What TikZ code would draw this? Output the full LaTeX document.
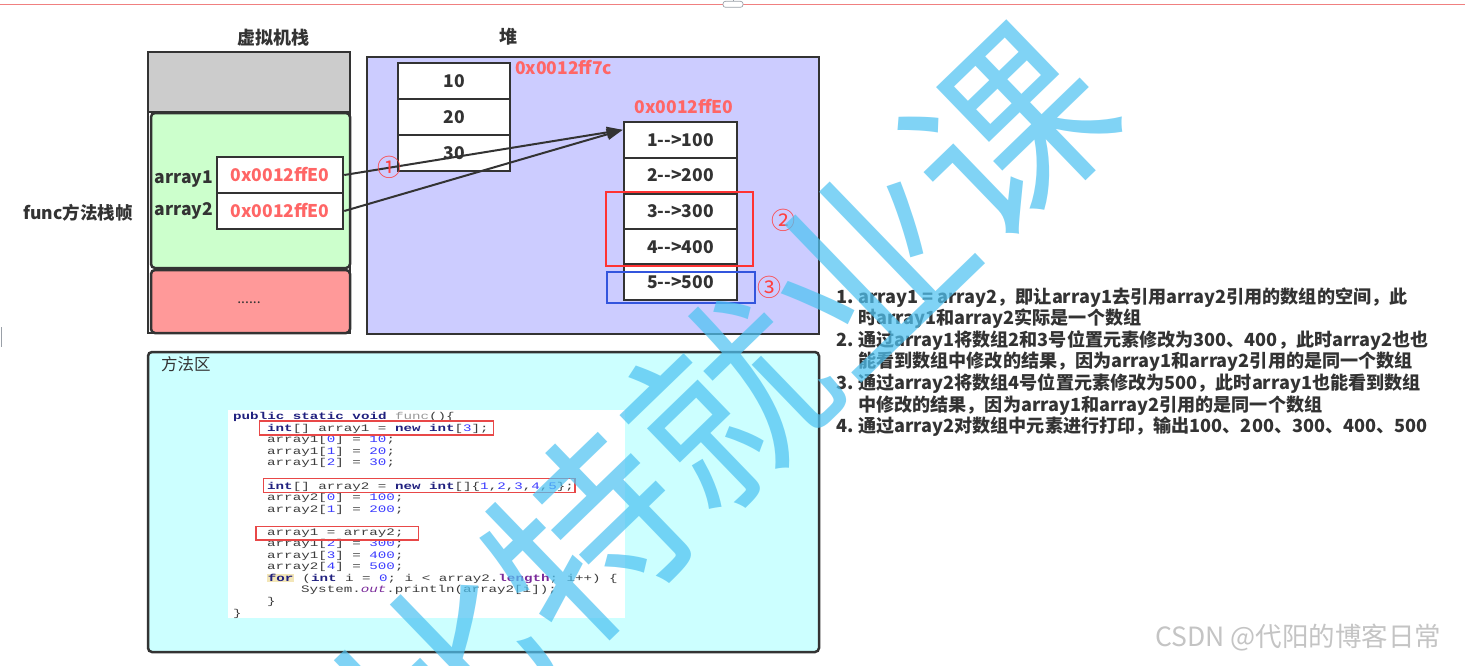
\documentclass[tikz,border=0pt]{standalone}
\usepackage{fontspec}
\usepackage{graphicx}
\usetikzlibrary{arrows.meta}
\newfontfamily\cjk{Noto Sans CJK SC}
\newfontfamily\cmono{Liberation Mono}
\newcommand\fsz[1]{\fontsize{#1}{#1}\selectfont}
\definecolor{lc}{HTML}{333333}
\definecolor{tc}{HTML}{333333}
\definecolor{stgrey}{HTML}{CCCCCC}
\definecolor{stgreen}{HTML}{CCFFCC}
\definecolor{stred}{HTML}{FF9999}
\definecolor{heapc}{HTML}{CCCCFF}
\definecolor{methc}{HTML}{CCFFFF}
\definecolor{addrc}{HTML}{FF6666}
\definecolor{circc}{HTML}{FF4040}
\definecolor{rrect}{HTML}{FF3333}
\definecolor{brect}{HTML}{3355DD}
\definecolor{kwc}{HTML}{20207F}
\definecolor{numc}{HTML}{3A3AFF}
\definecolor{purp}{HTML}{7A2A9A}
\definecolor{codec}{HTML}{3C3C3C}
\definecolor{funcc}{HTML}{999999}
\definecolor{forbg}{HTML}{F3E6B8}
\definecolor{crect}{HTML}{E84848}
\definecolor{wmc}{HTML}{4FC3F2}
\definecolor{uired}{HTML}{F08080}
\definecolor{uigrey}{HTML}{9AA0A8}
\definecolor{csdnc}{HTML}{C4C4C4}
\newcommand\kw[1]{\textcolor{kwc}{\bfseries #1}}
\newcommand\nm[1]{\textcolor{numc}{#1}}
\setlength\fboxsep{0.6pt}
\tikzset{
  box/.style={draw=lc, line width=2.5pt},
  title/.style={inner sep=0pt, font=\cjk\bfseries\fsz{18}, text=tc},
  lbl/.style={inner sep=0pt, font=\cjk\bfseries\fsz{17.5}, text=tc},
  cellbase/.style={draw=lc, line width=2.5pt, fill=white, inner sep=0pt, text height=12.6pt, text depth=0pt, font=\cjk\bfseries\fsz{17.5}},
  addrcell/.style={cellbase, minimum width=126pt, minimum height=36pt, text=addrc},
  smallcell/.style={cellbase, minimum width=112pt, minimum height=36pt, text=tc},
  bigcell/.style={cellbase, minimum width=113pt, minimum height=35.6pt, text=tc},
  addr/.style={inner sep=0pt, font=\cjk\bfseries\fsz{17.5}, text=addrc},
  circ/.style={inner sep=0pt, font=\cjk\fsz{24}, text=circc},
  arr/.style={draw=lc, line width=2pt, -{Triangle[length=16pt,width=11pt]}},
  code/.style={anchor=base west, inner sep=0pt, font=\cmono\fsz{14.2}, text=codec},
  coderect/.style={draw=crect, line width=1.3pt},
  rt/.style={anchor=base west, inner sep=0pt, font=\cjk\bfseries\fsz{18.1}, text=tc},
  wm/.style={inner sep=0pt, font=\cjk\fsz{195}, text=wmc, text opacity=0.72},
}
\begin{document}
\begin{tikzpicture}[x=1pt,y=-1pt]
\useasboundingbox (0,0) rectangle (1465,665);
\fill[white] (0,0) rectangle (1465,665);
% editor artefacts
\draw[uired, line width=1.4pt] (0,4.3) -- (723,4.3) (743,4.3) -- (1465,4.3);
\draw[uigrey, fill=white, line width=0.7pt, rounded corners=2.5pt] (723,1.3) rectangle (743,7.3);
\draw[uigrey, line width=0.7pt] (733,0) -- (733,1.3);
\draw[uigrey, line width=0.7pt] (1.8,327) -- (1.8,347);
% titles
\node[title, anchor=base] (tstack) at (273.5,44.5) {虚拟机栈};
\node[title, anchor=base] (theap) at (508,43.5) {堆};
% stack
\draw[box, fill=white] (148,52) rectangle (350,333);
\draw[box, fill=stgrey] (148,52) rectangle (350,112);
\draw[box, fill=stgreen, rounded corners=4pt] (151,113) rectangle (350,268);
\draw[box, fill=stred, rounded corners=4pt] (151,270) rectangle (350,333);
\node[lbl, anchor=base] (l1) at (184,183.3) {array1};
\node[lbl, anchor=base] (l2) at (184,215.3) {array2};
\node[addrcell] (a1) at (280,175) {0x0012ffE0};
\node[addrcell] (a2) at (280,211) {0x0012ffE0};
\node[lbl, anchor=base west] (frame) at (23,219.3) {func方法栈帧};
\node[inner sep=0pt, font=\cjk\fsz{14}, text=tc] (dots) at (249,303) {......};
% heap
\draw[box, fill=heapc] (367,57) rectangle (819,334);
\node[smallcell] (s1) at (454,81) {10};
\node[smallcell] (s2) at (454,117) {20};
\node[smallcell] (s3) at (454,153) {30};
\node[addr, anchor=base west] (h1) at (515,74.3) {0x0012ff7c};
\node[addr, anchor=base] (h2) at (684,113.3) {0x0012ffE0};
\node[bigcell] (e1) at (680.5,140) {1-\kern0pt->100};
\node[bigcell] (e2) at (680.5,175.6) {2-\kern0pt->200};
\node[bigcell] (e3) at (680.5,211.2) {3-\kern0pt->300};
\node[bigcell] (e4) at (680.5,246.8) {4-\kern0pt->400};
\node[bigcell] (e5) at (680.5,282.4) {5-\kern0pt->500};
\draw[arr] (a1.east) -- (e1.170);
\draw[arr] (a2.east) -- (e1.170);
\draw[draw=rrect, line width=2.5pt] (606,192) rectangle (753,266);
\draw[draw=brect, line width=2.5pt] (607,272) rectangle (755,303);
\node[circ] (c1) at (389,167) {①};
\node[circ] (c2) at (783,220) {②};
\node[circ] (c3) at (769,287) {③};
% method area
\draw[box, fill=methc, rounded corners=4pt] (148,352) rectangle (819,652);
\node[inner sep=0pt, anchor=base west, font=\cjk\fsz{16.5}, text=tc] (marea) at (161,370) {方法区};
\fill[white] (228,410) rectangle (625,618);
\node[code] (k0) at (233,419.7) {\scalebox{1}[0.7]{\kw{public static void} \textcolor{funcc}{func}()\{}};
\node[code] (k1) at (267,431.25) {\scalebox{1}[0.7]{\kw{int}[] array1 = \kw{new} \kw{int}[\nm{3}];}};
\node[code] (k2) at (267,442.8) {\scalebox{1}[0.7]{array1[\nm{0}] = \nm{10};}};
\node[code] (k3) at (267,454.35) {\scalebox{1}[0.7]{array1[\nm{1}] = \nm{20};}};
\node[code] (k4) at (267,465.9) {\scalebox{1}[0.7]{array1[\nm{2}] = \nm{30};}};
\node[code] (k6) at (267,489.0) {\scalebox{1}[0.7]{\kw{int}[] array2 = \kw{new} \kw{int}[]\{\nm{1},\nm{2},\nm{3},\nm{4},\nm{5}\};}};
\node[code] (k7) at (267,500.55) {\scalebox{1}[0.7]{array2[\nm{0}] = \nm{100};}};
\node[code] (k8) at (267,512.1) {\scalebox{1}[0.7]{array2[\nm{1}] = \nm{200};}};
\node[code] (k10) at (267,535.2) {\scalebox{1}[0.7]{array1 = array2;}};
\node[code] (k11) at (267,546.75) {\scalebox{1}[0.7]{array1[\nm{2}] = \nm{300};}};
\node[code] (k12) at (267,558.3) {\scalebox{1}[0.7]{array1[\nm{3}] = \nm{400};}};
\node[code] (k13) at (267,569.85) {\scalebox{1}[0.7]{array2[\nm{4}] = \nm{500};}};
\node[code] (k14) at (267,581.4) {\scalebox{1}[0.7]{\colorbox{forbg}{\kw{for}} (\kw{int} i = \nm{0}; i < array2.\textcolor{purp}{\bfseries length}; i++) \{}};
\node[code] (k15) at (301,592.95) {\scalebox{1}[0.7]{System.\textcolor{purp}{\itshape out}.println(array2[i]);}};
\node[code] (k16) at (267,604.5) {\scalebox{1}[0.7]{\}}};
\node[code] (k17) at (233,616.05) {\scalebox{1}[0.7]{\}}};
\draw[coderect] (259.3,421) rectangle (493.3,435);
\draw[coderect] (263.3,478.3) rectangle (575,492.3);
\draw[coderect] (256,526.7) rectangle (418.3,540);
% explanation
\node[rt] (n1) at (836,303.6) {1.};
\node[rt] (t1) at (858,303.6) {array1 = array2，即让array1去引用array2引用的数组的空间，此};
\node[rt] (t2) at (858,324.6) {时array1和array2实际是一个数组};
\node[rt] (n2) at (836,346.6) {2.};
\node[rt] (t3) at (858,346.6) {通过array1将数组2和3号位置元素修改为300、400，此时array2也也};
\node[rt] (t4) at (858,367.6) {能看到数组中修改的结果，因为array1和array2引用的是同一个数组};
\node[rt] (n3) at (836,389.6) {3.};
\node[rt] (t5) at (858,389.6) {通过array2将数组4号位置元素修改为500，此时array1也能看到数组};
\node[rt] (t6) at (858,411.6) {中修改的结果，因为array1和array2引用的是同一个数组};
\node[rt] (n4) at (836,432.6) {4.};
\node[rt] (t7) at (858,432.6) {通过array2对数组中元素进行打印，输出100、200、300、400、500};
% watermarks
\node[wm, rotate=44] (wm) at (728,402) {比特就业课};
\node[inner sep=0pt, anchor=base west, font=\cjk\fsz{26.5}, text=csdnc] (csdn) at (1155,646) {CSDN @代阳的博客日常};
\end{tikzpicture}
\end{document}
